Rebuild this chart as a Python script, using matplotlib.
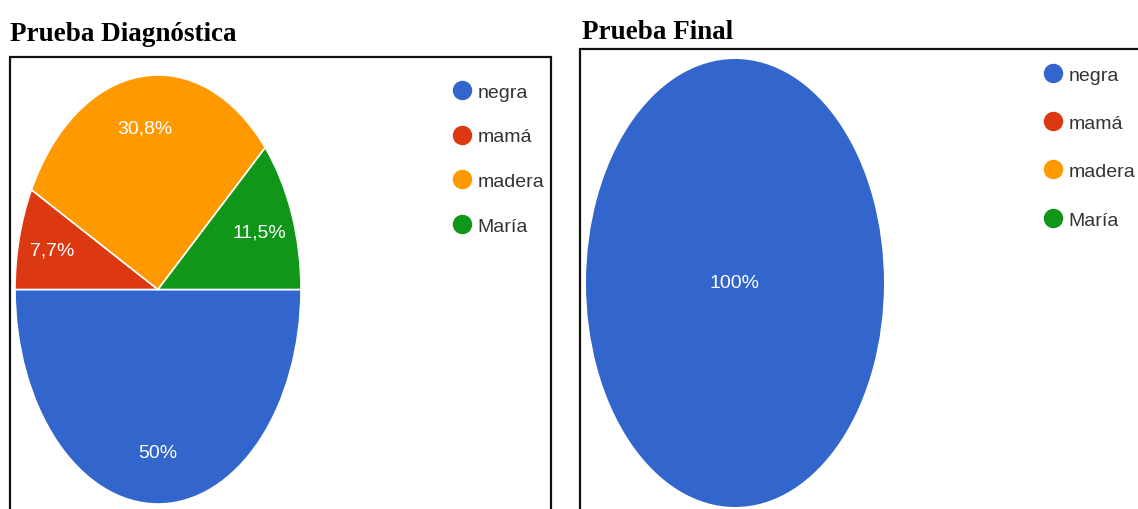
import matplotlib
matplotlib.use("Agg")
import matplotlib.pyplot as plt
from matplotlib.lines import Line2D
from matplotlib.patches import Rectangle

# Data
categories = ["negra", "mamá", "madera", "María"]
diag_values = [50.0, 7.7, 30.8, 11.5]
final_values = [100.0, 0.0, 0.0, 0.0]
colors = ["#3366CC", "#DC3912", "#FF9900", "#109618"]
titles = ["Prueba Diagnóstica", "Prueba Final"]

label_font = ["Liberation Sans Narrow", "Liberation Sans", "DejaVu Sans"]
title_font = ["Liberation Serif", "DejaVu Serif"]

W, H = 1138, 510
fig = plt.figure(figsize=(W / 100, H / 100), dpi=100)


def px(x0, y0, x1, y1):
    # pixel box (top-left origin) -> figure fraction rect
    return [x0 / W, 1 - y1 / H, (x1 - x0) / W, (y1 - y0) / H]


def pct_fmt(p):
    if p < 0.05:
        return ""
    s = f"{p:.1f}".replace(".", ",")
    if s.endswith(",0"):
        s = s[:-2]
    return s + "%"


def draw_pie(rect, values, pctdist, edge_lw):
    ax = fig.add_axes(rect)
    ax.pie(
        values, colors=colors, startangle=0, counterclock=False,
        autopct=pct_fmt, pctdistance=pctdist, radius=1,
        wedgeprops=dict(edgecolor="white", linewidth=edge_lw),
        textprops=dict(color="white", fontsize=14, family=label_font),
    )
    ax.set_aspect("auto")
    ax.set_xlim(-1, 1)
    ax.set_ylim(-1, 1)
    ax.axis("off")
    return ax


# frames around each chart
fig.add_artist(Rectangle((10 / W, -0.05), (551 - 10) / W, 1 - 58 / H + 0.05,
                         transform=fig.transFigure, fill=False,
                         edgecolor="#111111", linewidth=1.6))
fig.add_artist(Rectangle((580 / W, -0.05), 0.6, 1 - 50 / H + 0.05,
                         transform=fig.transFigure, fill=False,
                         edgecolor="#111111", linewidth=1.6))

draw_pie(px(15, 76, 301, 505), diag_values, 0.76, 1.2)
draw_pie(px(586, 60, 884, 508), final_values, 0.0, 0)

fig.text(10 / W, 1 - 41 / H, titles[0], family=title_font, fontweight="bold",
         fontsize=19.5, va="baseline", ha="left")
fig.text(582 / W, 1 - 39 / H, titles[1], family=title_font, fontweight="bold",
         fontsize=19.5, va="baseline", ha="left")

handles = [Line2D([], [], linestyle="none", marker="o", markersize=13,
                  markerfacecolor=c, markeredgecolor=c) for c in colors]

for x, y, sp in [(452, 84, 1.40), (1043, 67, 1.58)]:
    fig.legend(handles, categories, loc="upper left",
               bbox_to_anchor=(x / W, 1 - y / H), frameon=False,
               handlelength=1.0, handletextpad=0.3, labelspacing=sp,
               borderaxespad=0, borderpad=0,
               prop=dict(family=label_font, size=14), labelcolor="#333333")

fig.savefig("out.png", dpi=100, facecolor="white")
